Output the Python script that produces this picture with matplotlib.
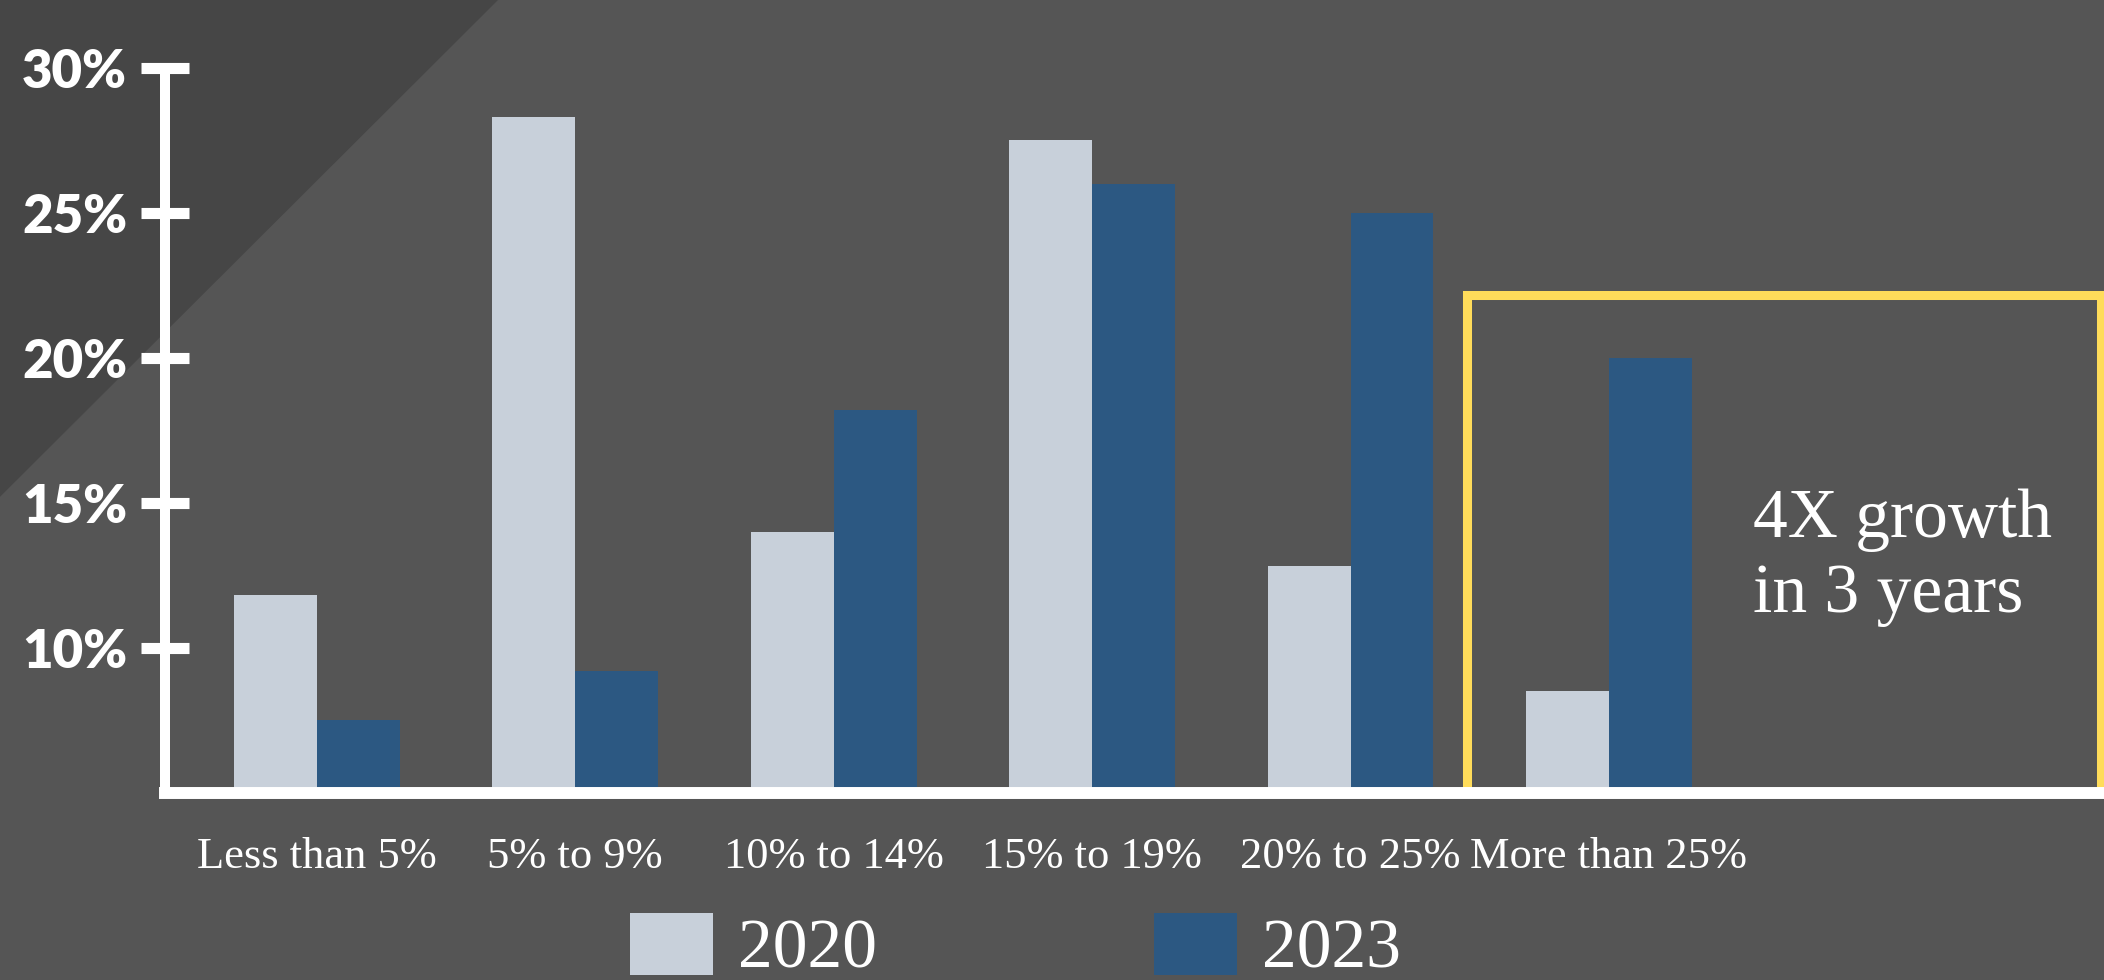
import matplotlib as mpl
mpl.use('Agg')
from matplotlib import pyplot as plt
from matplotlib.patches import Polygon, Rectangle
import numpy as np

# 資料
categories = ['Less than 5%', '5% to 9%', '10% to 14%', '15% to 19%', '20% to 25%', 'More than 25%']
years = ['2020', '2023']
share_2020 = [11.8, 28.3, 14.0, 27.5, 12.8, 8.5]
share_2023 = [7.5, 9.2, 18.2, 26.0, 25.0, 20.0]
y_ticks = [10, 15, 20, 25, 30]
y_tick_labels = ['10%', '15%', '20%', '25%', '30%']
note = '4X growth\nin 3 years'

bg = '#555555'
light = '#C8D0DA'
blue = '#2C5882'
yellow = '#FFDC5A'

fig = plt.figure(figsize=(21.04, 9.8), dpi=100, facecolor=bg)

# 左上角深色三角形
fig.patches.append(Polygon([[0, 1], [0.2367, 1], [0, 0.493]], closed=True,
                           transform=fig.transFigure, facecolor='#464646',
                           edgecolor='none', zorder=-1))

ax = fig.add_axes([0.0784, 0.1913, 0.9216, 0.7398])
ax.set_facecolor('none')
ax.set_zorder(1)

x = np.arange(len(categories))
w = 0.321
b1 = ax.bar(x - w / 2, share_2020, w, color=light, zorder=2)
b2 = ax.bar(x + w / 2, share_2023, w, color=blue, zorder=2)

ax.set_xlim(-0.588, 6.916)
ax.set_ylim(5, 30)

# 座標軸
for s in ['top', 'right']:
    ax.spines[s].set_visible(False)
ax.spines['left'].set_color('white')
ax.spines['left'].set_linewidth(7.2)
ax.spines['bottom'].set_color('white')
ax.spines['bottom'].set_linewidth(8.6)
ax.spines['left'].set_zorder(4)
ax.spines['bottom'].set_zorder(4)

ax.set_yticks(y_ticks)
ax.set_yticklabels(y_tick_labels, fontfamily='Lato', fontweight='heavy',
                   fontsize=38, color='white')
ax.tick_params(axis='y', direction='inout', length=34.5, width=8,
               color='white', pad=10)

ax.set_xticks(x)
ax.set_xticklabels(categories, fontfamily='Liberation Serif', fontsize=32,
                   color='white')
ax.tick_params(axis='x', length=0, pad=32)

# 黃色框
ax.add_patch(Rectangle((4.450, 5), 6.905 - 4.450, 22.16 - 5, fill=False,
                       edgecolor=yellow, linewidth=6.5, clip_on=False, zorder=3))
ax.text(5.557, 11.22, note, fontfamily='Liberation Serif', fontsize=50,
        color='white', va='baseline', ha='left', linespacing=1.25, zorder=5)

# 圖例
fig.legend([b1, b2], years, loc='upper left', bbox_to_anchor=(630 / 2104, 1 - 913 / 980),
           ncol=2, frameon=False, borderpad=0, borderaxespad=0,
           handlelength=1.2, handleheight=1.0, handletextpad=0.36,
           columnspacing=3.98, labelcolor='white',
           prop={'family': 'Liberation Serif', 'size': 50})

fig.savefig('out.png', facecolor=bg)
plt.close()
